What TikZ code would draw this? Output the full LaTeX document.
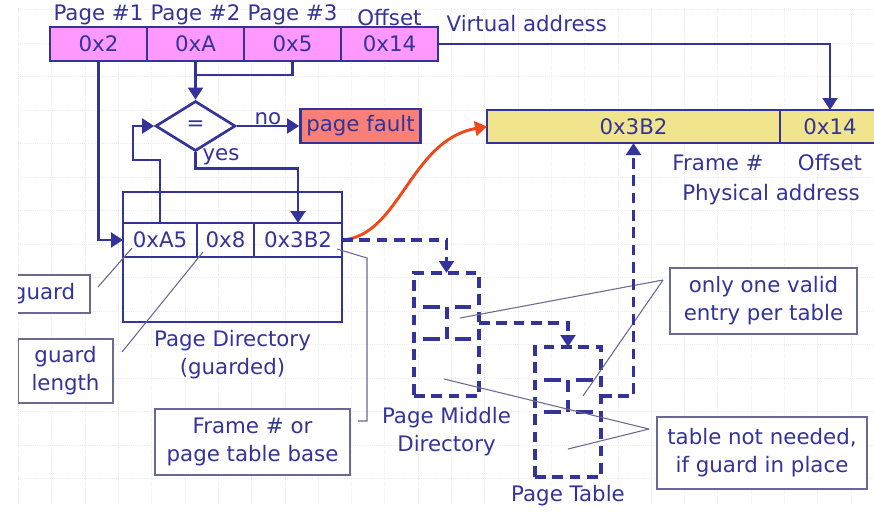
\documentclass[tikz,border=0pt]{standalone}
\usepackage{fontspec}
\setmainfont{DejaVu Sans}
\usetikzlibrary{arrows.meta, shapes.geometric, positioning}
\definecolor{navy}{RGB}{51,51,153}
\definecolor{vpink}{RGB}{255,153,255}
\definecolor{pyellow}{RGB}{240,228,140}
\definecolor{faultred}{RGB}{248,128,120}
\definecolor{frameorange}{RGB}{240,72,24}
\definecolor{callgray}{RGB}{105,105,145}
\tikzset{>={Triangle[width=11pt,length=9pt]}}
\tikzset{every text node part/.style={align=center}}
\tikzset{
	vcell/.style={draw=navy, line width=2pt, fill=vpink, text=navy, inner sep=0pt, outer sep=0pt, minimum width=72.75pt, minimum height=25.5pt},
	pcell/.style={draw=navy, line width=2pt, fill=pyellow, text=navy, inner sep=0pt, outer sep=0pt, minimum height=24.75pt},
	dcell/.style={draw=navy, line width=1.8pt, text=navy, inner sep=0pt, outer sep=0pt, minimum height=25.5pt},
	tbl/.style={draw=navy, line width=2.6pt, dash pattern=on 8pt off 5pt, inner sep=0pt, outer sep=0pt},
	tblrow/.style={draw=navy, line width=2.6pt},
	conn/.style={draw=navy, line width=2.2pt},
	callout/.style={draw=callgray, line width=1pt, fill=white, text=navy, inner sep=0pt},
	lead/.style={draw=callgray, line width=0.8pt},
	lbl/.style={text=navy, inner sep=1pt},
	gridline/.style={black!8, line width=0.6pt, densely dotted}
}
\newcommand{\tablerow}[5]{% x1, x2, divider, y1, y2
	\draw[tblrow] ({#1+9},#4) -- ({#3-7},#4) ({#3+8},#4) -- ({#2-8},#4);
	\draw[tblrow] ({#1+9},#5) -- ({#3-7},#5) ({#3+8},#5) -- ({#2-8},#5);
	\draw[tblrow] (#3,#4) -- (#3,{#4+12}) (#3,{#5-12}) -- (#3,#5);
}

\begin{document}
\begin{tikzpicture}[x=0.75pt, y=-0.75pt, font=\fontsize{16}{21}\selectfont]
	\useasboundingbox (0,0) rectangle (874,512);
	\begin{scope}
	\clip (18,0) rectangle (874,512);
	
	% Background grid
	\foreach \gx in {18.5,51.8,...,874}
		\draw[gridline] (\gx,8) -- (\gx,505);
	\foreach \gy in {9.5,43,...,505}
		\draw[gridline] (18,\gy) -- (874,\gy);
	
	% Virtual address
	\node[vcell] (vp1) at (98.5,44) {0x2};
	\node[vcell, right=0pt of vp1] (vp2) {0xA};
	\node[vcell, right=0pt of vp2] (vp3) {0x5};
	\node[vcell, right=0pt of vp3] (vp4) {0x14};
	\node[lbl, above=0pt of vp1] (l1) {Page \#1};
	\node[lbl, above=0pt of vp2] (l2) {Page \#2};
	\node[lbl, above=0pt of vp3] (l3) {Page \#3};
	\node[lbl, above=0pt of vp4] (l4) {Offset};
	\node[lbl, anchor=west] (vaddr) at (445,24) {Virtual address};
	
	% Physical address
	\node[pcell, minimum width=219.75pt] (pframe) at (633.5,126.5) {0x3B2};
	\node[pcell, minimum width=75pt, right=0pt of pframe] (poff) {0x14};
	\node[lbl] (fnum) at (718,163) {Frame \#};
	\node[lbl] (foff) at (830,163) {Offset};
	\node[lbl] (paddr) at (771,195) {Physical address};
	
	% Compare
	\node[diamond, draw=navy, line width=2pt, text=navy, minimum width=60pt, minimum height=37.5pt, inner sep=0pt] (eq) at (195.5,126) {=};
	\node[draw=navy, line width=2pt, fill=faultred, text=navy, minimum width=90pt, minimum height=25.5pt, inner sep=0pt] (fault) at (360.5,126) {page fault};
	
	% Page directory
	\node[dcell, minimum width=164.25pt, minimum height=23.25pt] (pdtop) at (232.5,207.5) {};
	\node[dcell, minimum width=55.5pt] (pda5) at (160,240) {0xA5};
	\node[dcell, minimum width=42.75pt, right=0pt of pda5] (pd8) {0x8};
	\node[dcell, minimum width=66pt, right=0pt of pd8] (pd3b2) {0x3B2};
	\node[dcell, minimum width=164.25pt, minimum height=48.75pt] (pdbot) at (232.5,289.5) {};
	\node[lbl, below=5pt of pdbot] (pdname) {Page Directory\\(guarded)};
	
	% Page middle directory
	\node[tbl, minimum width=48.75pt, minimum height=92.25pt] (pmd) at (446.5,334.5) {};
	\tablerow{414}{479}{447}{307}{339}
	\node[lbl, below=7pt of pmd] (pmdname) {Page Middle\\Directory};
	
	% Page table
	\node[tbl, minimum width=49.5pt, minimum height=97.5pt] (pt) at (568,412) {};
	\tablerow{535}{601}{568}{380}{412}
	\node[lbl, below=5pt of pt] (ptname) {Page Table};
	
	% Callouts
	\node[callout, minimum width=69pt, minimum height=28.5pt] (gbox) at (44,294) {guard};
	\node[callout, minimum width=71.25pt, minimum height=48pt] (glbox) at (65.5,371) {guard\\length};
	\node[callout, minimum width=146.25pt, minimum height=49.5pt] (fbox) at (252.5,442) {Frame \# or\\page table base};
	\node[callout, minimum width=140.25pt, minimum height=49.5pt] (obox) at (763.5,301) {only one valid\\entry per table};
	\node[callout, minimum width=157.5pt, minimum height=54pt] (tbox) at (762,453) {table not needed,\\if guard in place};
	
	% Leaders
	\coordinate (gfrom) at (98,287);
	\coordinate (gto) at (132,248);
	\coordinate (glfrom) at (122,352);
	\coordinate (glto) at (203,252);
	\coordinate (ffrom) at (358,421);
	\coordinate (fto) at (337,249);
	\coordinate (ofrom) at (663,280);
	\coordinate (tfrom) at (649,429);
	\draw[lead] (gfrom) -- (gto);
	\draw[lead] (glfrom) -- (glto);
	\draw[lead] (ffrom) -- (367,421) -- (367,258) -- (fto);
	\draw[lead] (ofrom) -- (460,318);
	\draw[lead] (ofrom) -- (583,396);
	\draw[lead] (tfrom) -- (444,379);
	\draw[lead] (tfrom) -- (568,449);
	
	% Virtual offset -> physical offset
	\draw[conn, ->] (vp4.east) -| (poff.north);
	
	% Page #1 -> page directory
	\draw[conn, ->] (vp1.south) |- (pda5.west);
	
	% Page #2 and #3 -> compare
	\path (vp2.south) ++(0,14) coordinate (join);
	\draw[conn] (vp3.south) |- (join);
	\draw[conn, ->] (vp2.south) -- (eq.north);
	
	% Guard -> compare
	\coordinate (fb) at (133,160);
	\draw[conn, ->] (pda5.north) |- (fb) |- (eq.west);
	
	% Compare result
	\draw[conn, ->] (eq.east) -- node[lbl, above=-1pt] (nolbl) {no} (fault.west);
	\draw[conn, ->] (eq.south) -- ++(0,16) -| (pd3b2.north);
	\node[lbl, anchor=west] (yeslbl) at (201,157) {yes};
	
	% Frame number -> physical address
	\draw[frameorange, line width=2.2pt, ->] (pd3b2.east) .. controls (400,236) and (410,140) .. (pframe.west);
	
	% Lookup without guard (dashed)
	\draw[tbl, ->] (pd3b2.east) -| (pmd.north);
	\coordinate (pmdout) at (479,323);
	\draw[tbl, ->] (pmdout) -| (pt.north);
	\coordinate (ptout) at (601,396);
	\draw[tbl, ->] (ptout) -| (pframe.south);
	\end{scope}
\end{tikzpicture}
\end{document}
